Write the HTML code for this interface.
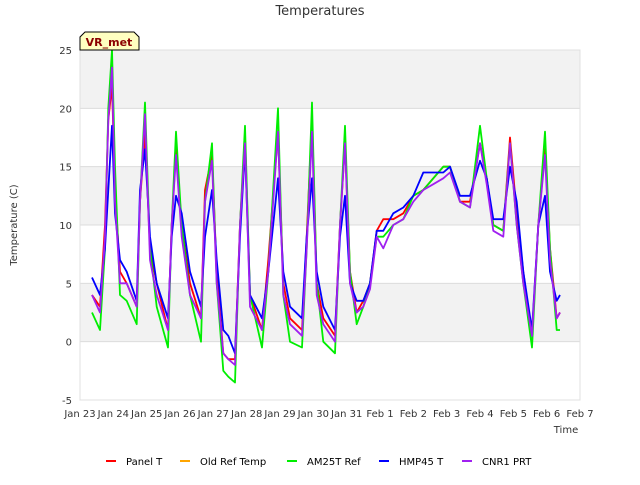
<!DOCTYPE html>
<html><head><meta charset="utf-8"><style>
body{margin:0;background:#fff;font-family:"Liberation Sans","DejaVu Sans",sans-serif}
svg text{font-family:"DejaVu Sans","Liberation Sans",sans-serif}
</style></head><body>
<svg id="chart" width="640" height="480" viewBox="0 0 640 480" xmlns="http://www.w3.org/2000/svg">
<rect width="640" height="480" fill="#fff"/>
<g id="bands"></g><g id="grid"></g><g id="series"></g><g id="axes"></g>
<text x="320" y="15" text-anchor="middle" font-size="13" fill="#333">Temperatures</text>
<text x="17" y="225" text-anchor="middle" font-size="10" fill="#333" transform="rotate(-90 17 225)">Temperature (C)</text>
<text x="566" y="433" text-anchor="middle" font-size="10" fill="#333">Time</text>
<g>
<path d="M80,50 L80,37 L85,32 L134,32 L139,37 L139,50 Z" fill="#ffffc0" stroke="#000" stroke-width="1"/>
<text x="109" y="46" text-anchor="middle" font-size="11" font-weight="bold" fill="#8b0000">VR_met</text>
</g>
<g id="legend"></g>
</svg>
<script>
const times=[0.36,0.6,0.75,0.85,0.96,1.05,1.2,1.4,1.7,1.8,1.95,2.1,2.3,2.64,2.75,2.88,3.05,3.3,3.63,3.75,3.96,4.1,4.3,4.45,4.65,4.8,4.95,5.1,5.46,5.65,5.94,6.1,6.3,6.66,6.8,6.96,7.1,7.3,7.65,7.8,7.95,8.1,8.3,8.5,8.7,8.9,9.1,9.4,9.7,10.0,10.3,10.6,10.9,11.1,11.4,11.7,12.0,12.2,12.4,12.7,12.9,13.1,13.3,13.56,13.75,13.95,14.1,14.3,14.4];
const panelT=[4,3,10,19,22,13,6,5,3,12,18,8,5,1,10,16.5,10,5,2,13,16,6,-1,-1.5,-1.5,10,17.5,4,1,7,18,5,2,1,9,19,5,2,0.5,10,17,6,2.5,3.5,5,9.5,10.5,10.5,11,12.5,13,14,15,15,12,12,17,14,10,9.5,17.5,11,6,0.5,10,16.5,8,2,2.5];
const oldRef=[];
const am25t=[2.5,1,8,20,25,15,4,3.5,1.5,12,20.5,8,3,-0.5,10,18,10,4,0,12,17,5,-2.5,-3,-3.5,10,18.5,4,-0.5,6,20,4,0,-0.5,8,20.5,5,0,-1,10,18.5,6,1.5,3,5,9,9,10,10.5,12.5,13,14,15,15,12,11.5,18.5,14,10,9.5,17,10,5,-0.5,10,18,8,1,1];
const hmp45=[5.5,4,8,13,18.5,11,7,6,3.5,13,16.5,9,5,2,9,12.5,11,6,3,9,13,7,1,0.5,-1,9,16.5,4,2,6,14,6,3,2,9,14,6,3,1,9,12.5,5,3.5,3.5,5,9.5,9.5,11,11.5,12.5,14.5,14.5,14.5,15,12.5,12.5,15.5,14,10.5,10.5,15,12,6,1,10,12.5,6,3.5,4];
const cnr1=[4,2.5,9,19,23.5,12,5,5,3,12,19.5,7,4,1,10,16,9,4,2,12,15.5,5,-1,-1.5,-2,10,17,3,1,6,18,4,1.5,0.5,8,18,4,1.5,0,10,17,5,2.5,3,4.5,9,8,10,10.5,12,13,13.5,14,14.5,12,11.5,17,13.5,9.5,9,17,10,5,0.5,10,16,7,2,2.5];
const xTickLabels=["Jan 23","Jan 24","Jan 25","Jan 26","Jan 27","Jan 28","Jan 29","Jan 30","Jan 31","Feb 1","Feb 2","Feb 3","Feb 4","Feb 5","Feb 6","Feb 7"];
const yTicks=[-5,0,5,10,15,20,25];
const seriesNames=["Panel T","Old Ref Temp","AM25T Ref","HMP45 T","CNR1 PRT"];
const seriesColors=["#ff0000","#ffa500","#00ee00","#0000ff","#a020f0"];
const seriesData=[panelT,oldRef,am25t,hmp45,cnr1];

const L=80,R=580,T=50,B=400,X0=0,X1=15,Y0=-5,Y1=25;
const xs=d=>L+(d-X0)/(X1-X0)*(R-L);
const ys=v=>B-(v-Y0)/(Y1-Y0)*(B-T);
const NS="http://www.w3.org/2000/svg";
function mk(tag,attrs,parent){const e=document.createElementNS(NS,tag);for(const k in attrs)e.setAttribute(k,attrs[k]);parent.appendChild(e);return e;}
const bands=document.getElementById('bands'),grid=document.getElementById('grid'),ser=document.getElementById('series'),axes=document.getElementById('axes'),leg=document.getElementById('legend');
for(let i=0;i<yTicks.length-1;i++){
  const lo=yTicks[i],hi=yTicks[i+1];
  const r=mk('rect',{x:L,y:ys(hi),width:R-L,height:ys(lo)-ys(hi),fill:(i%2===1)?'#f2f2f2':'#ffffff'},bands);
  
  
}
yTicks.forEach(v=>{
  const g=mk('line',{x1:L,x2:R,y1:ys(v),y2:ys(v),stroke:'#dcdcdc','stroke-width':1},grid);
  
  
  const t=mk('text',{x:L-8,y:ys(v)+4,'text-anchor':'end','font-size':10,fill:'#333'},axes);
  t.textContent=v;
  
  
});
xTickLabels.forEach((lab,i)=>{
  const t=mk('text',{x:xs(i),y:B+17,'text-anchor':'middle','font-size':10,fill:'#333'},axes);
  t.textContent=lab;
  
  
});
const frame=mk('rect',{x:L,y:T,width:R-L,height:B-T,fill:'none',stroke:'#e0e0e0'},axes);


seriesData.forEach((arr,si)=>{
  const n=Math.min(arr.length,times.length);
  if(n<2)return;
  let pts=[];for(let i=0;i<n;i++)pts.push(xs(times[i]).toFixed(1)+','+ys(arr[i]).toFixed(1));
  const p=mk('polyline',{points:pts.join(' '),fill:'none',stroke:seriesColors[si],'stroke-width':1.8,'stroke-linejoin':'round'},ser);
  
  
});
const lx=[106,180,287,379,462];
seriesNames.forEach((nm,i)=>{
  const g=mk('g',{},leg);
  
  
  mk('line',{x1:lx[i],x2:lx[i]+10,y1:461,y2:461,stroke:seriesColors[i],'stroke-width':2},g);
  const t=mk('text',{x:lx[i]+20,y:465,'font-size':10,fill:'#000'},g);
  t.textContent=nm;
});
</script>
</body></html>
